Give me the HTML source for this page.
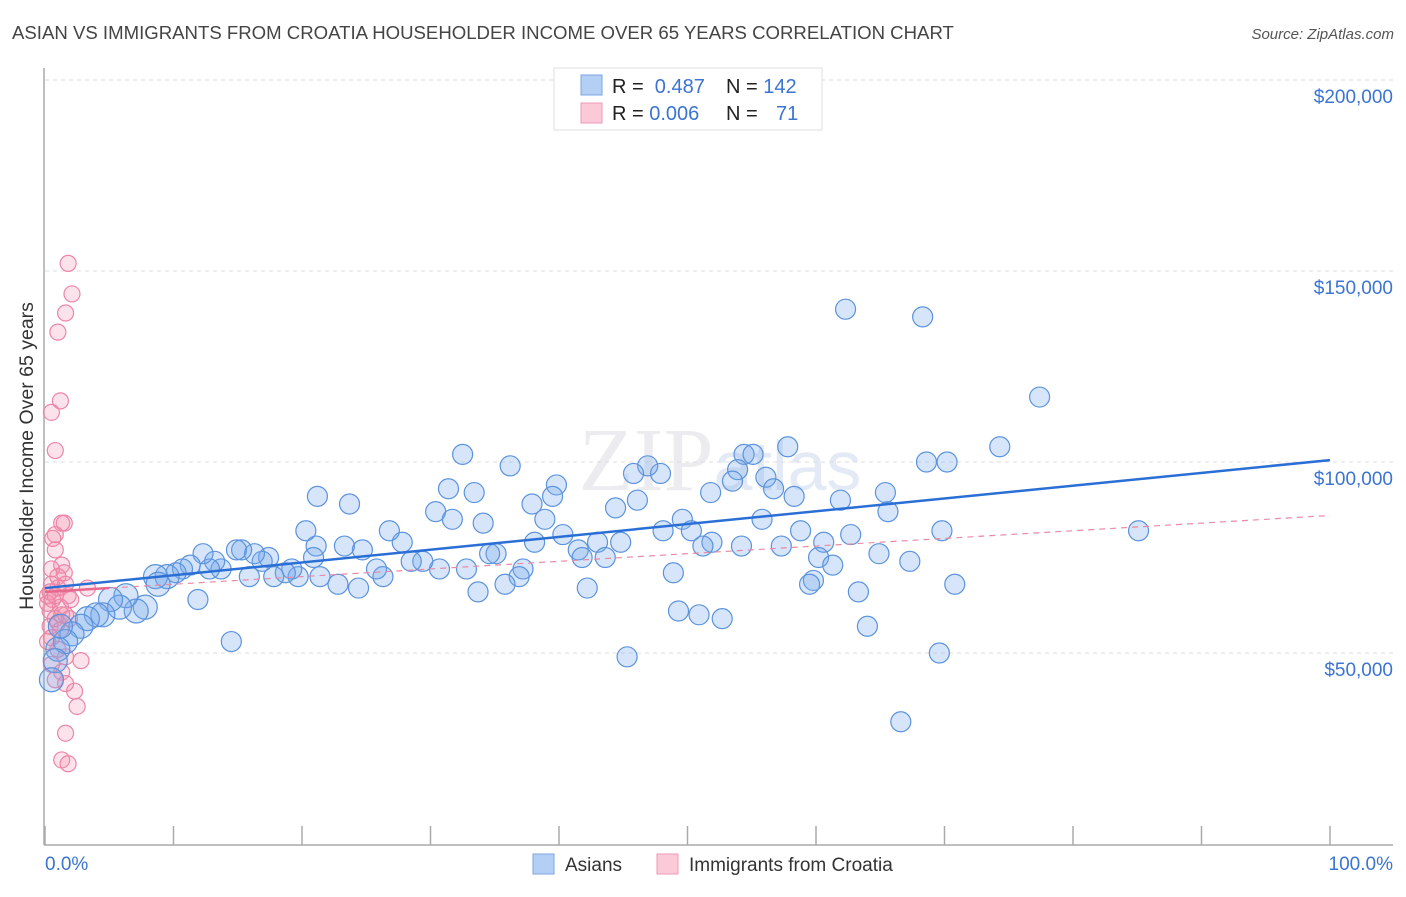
<!DOCTYPE html>
<html><head><meta charset="utf-8"><style>
body{margin:0;background:#fff;font-family:"Liberation Sans",sans-serif}
</style></head><body>
<svg id="chart" width="1406" height="892" xmlns="http://www.w3.org/2000/svg" font-family="Liberation Sans, sans-serif">
<text x="12" y="39" font-size="18.6" fill="#444">ASIAN VS IMMIGRANTS FROM CROATIA HOUSEHOLDER INCOME OVER 65 YEARS CORRELATION CHART</text>
<text x="1394" y="39" font-size="15" fill="#555" font-style="italic" text-anchor="end">Source: ZipAtlas.com</text>
<text transform="translate(33,456) rotate(-90)" font-size="19.5" fill="#333" text-anchor="middle">Householder Income Over 65 years</text>
<text x="720" y="490" font-size="90" fill="#ececf0" text-anchor="middle" font-family="Liberation Serif, serif">ZIP<tspan fill="#e3eaf5" font-family="Liberation Sans, sans-serif" font-size="70">atlas</tspan></text>
<g id="grid"></g><g id="axes"></g><g id="pink"></g><g id="blue"></g><g id="lines"></g>
<g>
<rect x="554" y="68" width="268" height="62" fill="#fff" stroke="#ddd"/>
<rect x="581" y="75" width="21" height="20" fill="#b3cff3" stroke="#7aa6e2"/>
<rect x="581" y="103" width="21" height="20" fill="#fbc9d8" stroke="#ee9ab4"/>
<text x="612" y="93" font-size="20" fill="#222">R = <tspan fill="#3b74d1">&#160;0.487</tspan><tspan x="726">N = </tspan><tspan fill="#3b74d1">142</tspan></text>
<text x="612" y="120" font-size="20" fill="#222">R = <tspan fill="#3b74d1">0.006</tspan><tspan x="726">N = </tspan><tspan fill="#3b74d1" x="776">71</tspan></text>
</g>
<g>
<rect x="533" y="854" width="21" height="20" fill="#b3cff3" stroke="#7aa6e2"/>
<text x="565" y="871" font-size="19" fill="#333">Asians</text>
<rect x="657" y="854" width="21" height="20" fill="#fbc9d8" stroke="#ee9ab4"/>
<text x="689" y="871" font-size="19" fill="#333">Immigrants from Croatia</text>
</g>
</svg>
<script>
const yTicks=[50000,100000,150000,200000];
const yTickLabels=["$50,000","$100,000","$150,000","$200,000"];
const xTickLabels=["0.0%","100.0%"];
const blueX=[62.3,68.3,77.4,74.3,68.6,70.2,57.8,54.4,55.1,53.9,53.5,56.1,56.7,58.3,61.9,65.4,65.6,69.8,85.1,51.8,47.9,46.9,45.8,46.1,44.4,39.8,39.5,36.2,32.5,31.4,33.4,30.4,31.7,34.1,37.9,38.9,38.1,40.3,41.5,43,44.8,43.6,41.8,48.1,49.6,50.3,51.9,51.2,54.2,55.8,57.3,58.8,60.6,62.7,60.2,61.3,59.8,59.5,64.9,67.3,70.8,63.3,64,48.9,49.3,50.9,52.7,45.3,69.6,66.6,42.2,37.2,36.9,35.8,35.1,34.6,33.7,32.8,30.7,29.4,28.5,27.8,26.8,26.3,25.8,24.7,24.4,23.3,23.7,22.8,21.1,20.3,21.4,20.9,21.2,19.7,19.2,18.7,17.8,17.4,16.9,16.3,15.9,15.3,14.9,14.5,13.7,13.2,12.8,12.3,11.9,11.3,10.7,10.2,9.5,8.6,8.8,7.8,7.1,6.3,5.8,5.1,4.5,4,3.3,2.8,2.1,1.6,1,0.8,0.5,1.2];
const blueY=[140,138,117,104,100,100,104,102,102,98,95,96,93,91,90,92,87,82,82,92,97,99,97,90,88,94,91,99,102,93,92,87,85,84,89,85,79,81,77,79,79,75,75,82,85,82,79,78,78,85,78,82,79,81,75,73,69,68,76,74,68,66,57,71,61,60,59,49,50,32,67,72,70,68,76,76,66,72,72,74,74,79,82,70,72,77,67,78,89,68,78,82,70,75,91,70,72,71,70,75,74,76,70,77,77,53,72,74,72,76,64,73,72,71,70,70,68,62,61,65,62,64,60,60,59,57,55,53,51,48,43,57];
const pinkX=[1.8,2.1,1.6,1,1.2,0.5,0.8,1.5,1.3,0.8,0.6,0.8,1.3,0.5,1.5,1,1.6,0.5,3.3,1,0.2,1.8,0.6,1.2,0.4,1.6,0.8,1.9,0.4,1.2,0.5,1,1.6,2.8,0.5,1.3,0.8,1.6,2.3,2.5,1.6,1.3,1.8,0.4,0.2,0.8,1.3,1,0.2,2];
const pinkY=[152,144,139,134,116,113,103,84,84,81,80,77,73,72,71,70,68,68,67,67,65,65,64,62,61,60,59,59,57,56,54,51,49,48,47,45,43,42,40,36,29,22,21,66,63,65,60,58,53,64];
const blueLine=[67,100.5];
const pinkLine=[66,86];
const X=p=>45+p*12.85, Y=v=>844-v*3.82;
const NS="http://www.w3.org/2000/svg";
function mk(parent,tag,attrs){const e=document.createElementNS(NS,tag);for(const k in attrs)e.setAttribute(k,attrs[k]);document.getElementById(parent).appendChild(e);return e;}
yTicks.forEach((t,i)=>{
 const l=mk('grid','line',{x1:45,x2:1393,y1:Y(t/1000),y2:Y(t/1000),stroke:'#ddd','stroke-dasharray':'4,4'});
 
 
 const tx=mk('grid','text',{x:1393,y:Y(t/1000)+23,'font-size':19,fill:'#3b74d1','text-anchor':'end'});
 tx.textContent=yTickLabels[i];
 
 
});
let a=mk('axes','line',{x1:44,x2:44,y1:68,y2:845,stroke:'#aaa','stroke-width':1.5});


a=mk('axes','line',{x1:44,x2:1393,y1:845,y2:845,stroke:'#aaa','stroke-width':1.5});


for(let i=0;i<=10;i++){const t=mk('axes','line',{x1:X(i*10),x2:X(i*10),y1:826,y2:845,stroke:'#aaa','stroke-width':1.5});
 
 }
[[0,'start',45],[100,'end',1393]].forEach((d,i)=>{const t=mk('axes','text',{x:d[2],y:870,'font-size':19,fill:'#3b74d1','text-anchor':d[1]});t.textContent=xTickLabels[i];
 
 });
pinkX.forEach((x,i)=>{const c=mk('pink','circle',{cx:X(x),cy:Y(pinkY[i]),r:8,fill:'rgba(242,140,170,0.25)',stroke:'#ec86a6','stroke-width':1.2});
 
 });
blueX.forEach((x,i)=>{const c=mk('blue','circle',{cx:X(x),cy:Y(blueY[i]),r:x<10?12:10,fill:'rgba(120,170,235,0.3)',stroke:'#5b93dc','stroke-width':1.2});
 
 });
let l=mk('lines','line',{x1:X(0),y1:Y(pinkLine[0]),x2:X(100),y2:Y(pinkLine[1]),stroke:'#e88aa6','stroke-width':1.2,'stroke-dasharray':'6,5'});


l=mk('lines','line',{x1:X(0),y1:Y(pinkLine[0]),x2:X(5),y2:Y(pinkLine[0]+(pinkLine[1]-pinkLine[0])*0.05),stroke:'#e8688e','stroke-width':2.5});


l=mk('lines','line',{x1:X(0),y1:Y(blueLine[0]),x2:X(100),y2:Y(blueLine[1]),stroke:'#2a6fd6','stroke-width':2.5});


</script>
</body></html>
